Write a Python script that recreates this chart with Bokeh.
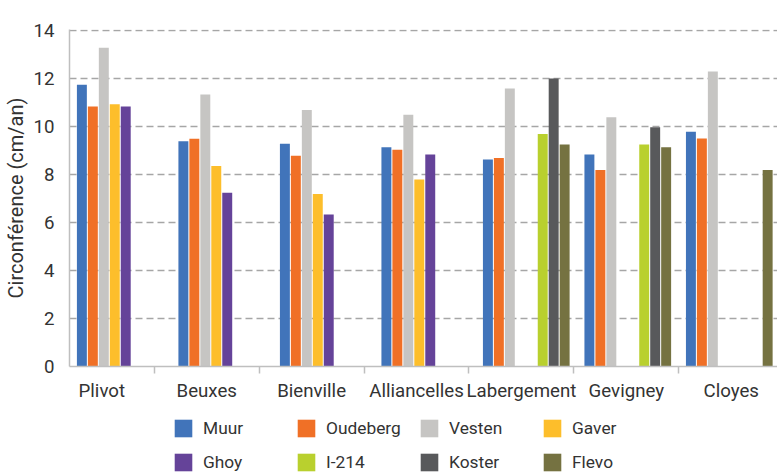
from bokeh.plotting import figure
from bokeh.layouts import column
from bokeh.models import Range1d, LinearAxis, FixedTicker, Legend, LegendItem
from bokeh.embed import file_html
from bokeh.resources import INLINE

nan = float("nan")

categories = ["Plivot", "Beuxes", "Bienville", "Alliancelles", "Labergement", "Gevigney", "Cloyes"]
series_names = ["Muur", "Oudeberg", "Vesten", "Gaver", "Ghoy", "I-214", "Koster", "Flevo"]

muur = [11.74, 9.39, 9.28, 9.14, 8.63, 8.83, 9.78]
oudeberg = [10.83, 9.49, 8.78, 9.03, 8.69, 8.19, 9.50]
vesten = [13.28, 11.33, 10.69, 10.49, 11.58, 10.39, 12.29]
gaver = [10.93, 8.35, 7.19, 7.79, nan, nan, nan]
ghoy = [10.83, 7.24, 6.33, 8.83, nan, nan, nan]
i214 = [nan, nan, nan, nan, 9.69, 9.25, nan]
koster = [nan, nan, nan, nan, 12.00, 9.97, nan]
flevo = [nan, nan, nan, nan, 9.25, 9.14, 8.19]

colors = ["#4174BA", "#F07026", "#C6C5C3", "#FDBE2B", "#654399", "#B9D02E", "#58595B", "#757241"]
y_ticks = [0, 2, 4, 6, 8, 10, 12, 14]

all_series = [muur, oudeberg, vesten, gaver, ghoy, i214, koster, flevo]

FONT = "Roboto"
TXT = "#333333"
AXIS_GRAY = "#BFBFBF"

W = 777
H_CHART = 405
H_LEG = 69

p = figure(width=W, height=H_CHART, output_backend="svg", toolbar_location=None,
           x_range=Range1d(0, 6.975), y_range=Range1d(0, 14.0417),
           x_axis_type=None, min_border_left=67, min_border_right=0,
           min_border_top=29, min_border_bottom=39)
p.outline_line_color = None
p.background_fill_color = "white"
p.border_fill_color = "white"

slot = 0.108
bar_w = 0.098
n = len(series_names)
for j, (name, vals, col) in enumerate(zip(series_names, all_series, colors)):
    xs = [i + 0.5 + (j - (n - 1) / 2) * slot for i in range(len(categories))]
    p.vbar(x=xs, top=vals, bottom=0, width=bar_w, fill_color=col, line_color=None)

# y axis
yax = p.yaxis[0]
yax.ticker = FixedTicker(ticks=y_ticks)
yax.axis_line_color = AXIS_GRAY
yax.axis_line_width = 1.5
yax.major_tick_line_color = None
yax.minor_tick_line_color = None
yax.major_label_standoff = 9
yax.major_label_text_font = FONT
yax.major_label_text_font_size = "14pt"
yax.major_label_text_color = TXT
yax.axis_label = "Circonférence (cm/an)"
yax.axis_label_text_font = FONT
yax.axis_label_text_font_size = "15pt"
yax.axis_label_text_font_style = "normal"
yax.axis_label_text_color = TXT
yax.axis_label_standoff = 3

p.ygrid.ticker = FixedTicker(ticks=y_ticks)
p.ygrid.grid_line_color = "#A6A6A6"
p.ygrid.grid_line_dash = "7 4"
p.ygrid.grid_line_width = 1.5
p.xgrid.grid_line_color = None

# category axis (labels centred between separator ticks)
p.extra_x_ranges = {"lab": Range1d(-0.308, 6.441)}
xax = LinearAxis(x_range_name="lab",
                 ticker=FixedTicker(ticks=list(range(len(categories))),
                                    minor_ticks=[k + 0.5 for k in range(len(categories) - 1)]),
                 major_label_overrides={k: c for k, c in enumerate(categories)})
xax.axis_line_color = AXIS_GRAY
xax.axis_line_width = 1.5
xax.major_tick_line_color = None
xax.minor_tick_line_color = AXIS_GRAY
xax.minor_tick_line_width = 1.5
xax.minor_tick_in = 0
xax.minor_tick_out = 7
xax.major_tick_out = 0
xax.major_tick_in = 0
xax.major_label_standoff = 6
xax.major_label_text_font = FONT
xax.major_label_text_font_size = "14pt"
xax.major_label_text_color = TXT
p.add_layout(xax, "below")

# legend strip below the chart
pl = figure(width=W, height=H_LEG, output_backend="svg", toolbar_location=None,
            x_range=Range1d(0, 1), y_range=Range1d(0, 1),
            x_axis_location=None, y_axis_location=None,
            min_border_left=0, min_border_right=0, min_border_top=0, min_border_bottom=0)
pl.outline_line_color = None
pl.grid.visible = False
pl.background_fill_color = "white"
pl.border_fill_color = "white"

leg_renderers = []
for name, col in zip(series_names, colors):
    leg_renderers.append(pl.vbar(x=[nan], top=[nan], bottom=0, width=1,
                                 fill_color=col, line_color=None))

legend = Legend(items=[LegendItem(label=nm, renderers=[r]) for nm, r in zip(series_names, leg_renderers)],
                orientation="horizontal", ncols=4,
                location=(103, 1),
                glyph_width=22, glyph_height=22, label_standoff=9,
                label_width=80, label_height=22, spacing=12,
                padding=0, margin=0,
                border_line_color=None, background_fill_alpha=0,
                label_text_font=FONT, label_text_font_size="13pt", label_text_color=TXT)
pl.add_layout(legend, "center")

layout = column(p, pl, spacing=0)
open("out.html", "w").write(file_html(layout, INLINE))
